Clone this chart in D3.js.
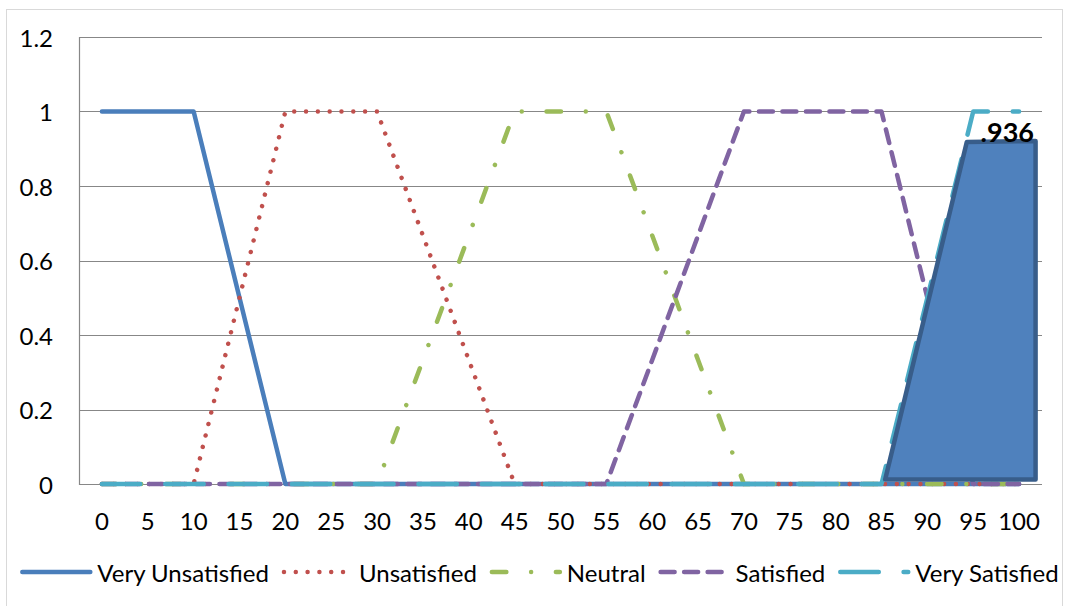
<!DOCTYPE html>
<html>
<head>
<meta charset="utf-8">
<script src="https://cdn.jsdelivr.net/npm/d3@7/dist/d3.min.js"></script>
<style>
  html, body { margin: 0; padding: 0; background: #fff; }
  svg { display: block; }
  text { font-family: Lato, "Open Sans", sans-serif; fill: #000; }
</style>
</head>
<body>
<svg id="chart" width="1068" height="606"></svg>
<script>
// ---- data ----
const categories = ["0","5","10","15","20","25","30","35","40","45","50","55","60","65","70","75","80","85","90","95","100"];
const veryUnsatisfied = [1,1,1,0.5,0,0,0,0,0,0,0,0,0,0,0,0,0,0,0,0,0];
const unsatisfied     = [0,0,0,0.5,1,1,1,0.667,0.333,0,0,0,0,0,0,0,0,0,0,0,0];
const neutral         = [0,0,0,0,0,0,0,0.333,0.667,1,1,1,0.667,0.333,0,0,0,0,0,0,0];
const satisfied       = [0,0,0,0,0,0,0,0,0,0,0,0,0.333,0.667,1,1,1,1,0.5,0,0];
const verySatisfied   = [0,0,0,0,0,0,0,0,0,0,0,0,0,0,0,0,0,0,0.5,1,1];
const seriesNames = ["Very Unsatisfied","Unsatisfied","Neutral","Satisfied","Very Satisfied"];
const yTicks = [0,0.2,0.4,0.6,0.8,1,1.2];
const yTickLabels = ["0","0.2","0.4","0.6","0.8","1","1.2"];
// shaded result area (x in scale units 0-100, y membership)
const resultArea = [[85.4,0.012],[94.3,0.918],[101.8,0.921],[101.8,0.012]];
const resultLabel = ".936";

// ---- styles ----
const styles = [
  {color:"#4A7EBB", dash:null},
  {color:"#C0504D", dash:"0.01 11.8"},
  {color:"#9BBB59", dash:"14.5 24.75 0.01 24.75"},
  {color:"#8064A2", dash:"14 9.5"},
  {color:"#4BACC6", dash:"38.5 24.8"}
];
const allSeries = [veryUnsatisfied, unsatisfied, neutral, satisfied, verySatisfied];

const svg = d3.select("#chart");
const plot = {left:79, right:1042, top:37, bottom:484};
const fontSize = 24;

// outer border
svg.append("rect").attr("x",6.5).attr("y",9.5).attr("width",1056).attr("height",605)
  .attr("fill","none").attr("stroke","#d9d9d9").attr("stroke-width",1);

const x = d3.scaleBand().domain(categories).range([plot.left, plot.right]).padding(0);
const cx = c => x(c) + x.bandwidth()/2;
const y = d3.scaleLinear().domain([0,1.2]).range([plot.bottom, plot.top]);
const xLin = d3.scaleLinear().domain([0,100]).range([cx("0"), cx("100")]);

// gridlines
svg.append("g").selectAll("line").data(yTicks).join("line")
  .attr("x1",plot.left).attr("x2",plot.right)
  .attr("y1",d=>Math.round(y(d))+0.5).attr("y2",d=>Math.round(y(d))+0.5)
  .attr("stroke","#878787").attr("stroke-width",1.2);
// y axis line
svg.append("line").attr("x1",plot.left+0.5).attr("x2",plot.left+0.5)
  .attr("y1",plot.top).attr("y2",Math.round(plot.bottom)+1)
  .attr("stroke","#878787").attr("stroke-width",1.2);

// y tick labels
svg.append("g").selectAll("text").data(yTicks).join("text")
  .attr("x",53).attr("y",d=>y(d)).attr("text-anchor","end")
  .attr("dominant-baseline","central").attr("font-size",fontSize)
  .text((d,i)=>yTickLabels[i]);

// x tick labels
svg.append("g").selectAll("text").data(categories).join("text")
  .attr("x",d=>cx(d)).attr("y",520).attr("text-anchor","middle")
  .attr("dominant-baseline","central").attr("font-size",fontSize)
  .text(d=>d);

// series lines
const line = d3.line().x((d,i)=>cx(categories[i])).y(d=>y(d));
allSeries.forEach((s,k)=>{
  const p = svg.append("path").datum(s).attr("d",line)
    .attr("fill","none").attr("stroke",styles[k].color).attr("stroke-width",4.5)
    .attr("stroke-linecap","round").attr("stroke-linejoin","round");
  if (styles[k].dash) p.attr("stroke-dasharray",styles[k].dash);
});

// shaded result polygon
svg.append("path")
  .attr("d", d3.line().x(d=>xLin(d[0])).y(d=>y(d[1]))(resultArea) + "Z")
  .attr("fill","#4F81BD").attr("stroke","#385D8A").attr("stroke-width",4.5)
  .attr("stroke-linejoin","round");

svg.append("text").attr("x",1034).attr("y",142).attr("text-anchor","end")
  .attr("font-size",27).attr("font-weight","bold").text(resultLabel);

// legend
const legend = svg.append("g");
const lineLen = 70, gapText = 7, gapItem = 13, legY = 572;
let cur = 0;
seriesNames.forEach((name,k)=>{
  const g = legend.append("g");
  const l = g.append("line").attr("x1",cur+2).attr("x2",cur+lineLen).attr("y1",legY).attr("y2",legY)
    .attr("stroke",styles[k].color).attr("stroke-width",4.5).attr("stroke-linecap","round");
  if (styles[k].dash) l.attr("stroke-dasharray",styles[k].dash);
  const t = g.append("text").attr("x",cur+lineLen+gapText).attr("y",legY)
    .attr("dominant-baseline","central").attr("font-size",fontSize).text(name);
  const w = t.node().getComputedTextLength();
  cur += lineLen + gapText + w + gapItem;
});
const total = cur - gapItem;
legend.attr("transform",`translate(${(17+1062)/2 - total/2},0)`);
</script>
</body>
</html>
